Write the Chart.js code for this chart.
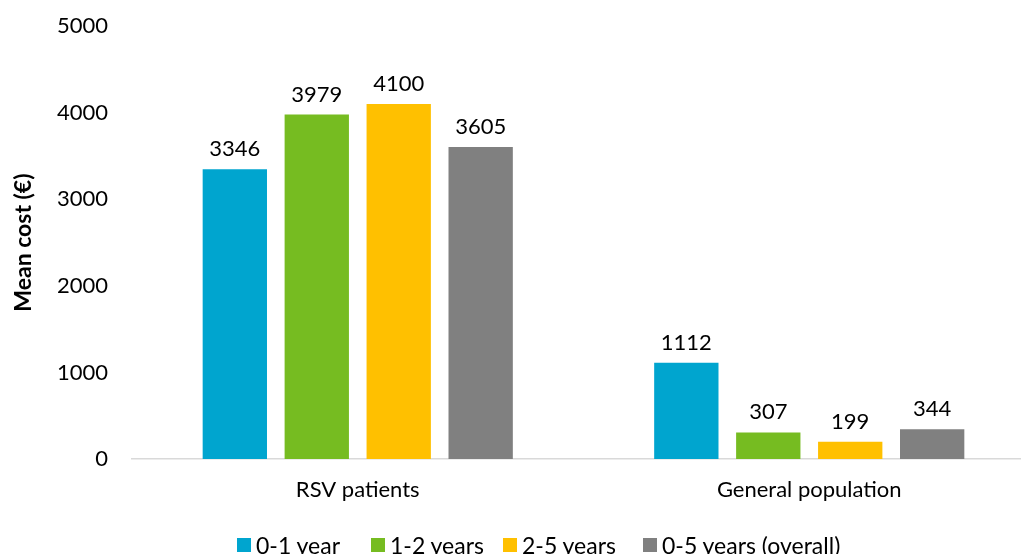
<!DOCTYPE html>
<html lang="en">
<head>
    <meta charset="UTF-8">
    <title>Mean cost</title>
    <script src="https://cdn.jsdelivr.net/npm/chart.js"></script>
    <style>
        body { margin: 0; background: #fff; overflow: hidden; font-family: Lato, sans-serif; }
        .wrap { position: relative; width: 1036px; height: 554px; overflow: hidden; }
        #myChart { position: absolute; left: 0; top: -11px; }
        .legend { position: absolute; left: 237px; top: 531px; display: flex; align-items: center; height: 28px; font-size: 23px; color: #000; white-space: nowrap; }
        .legend-item { display: flex; align-items: center; flex: none; }
        .legend-item:nth-child(1) { width: 134px; }
        .legend-item:nth-child(2) { width: 132px; }
        .legend-item:nth-child(3) { width: 140px; }
        .legend-color { width: 14px; height: 14px; margin-right: 5px; }
    </style>
</head>
<body>
    <div class="wrap">
        <canvas id="myChart" width="1036" height="565"></canvas>
        <div class="legend" id="legend"></div>
    </div>

    <script>
        const categories = ['RSV patients', 'General population'];
        const seriesNames = ['0-1 year', '1-2 years', '2-5 years', '0-5 years (overall)'];
        const age01 = [3346, 1112];
        const age12 = [3979, 307];
        const age25 = [4100, 199];
        const age05 = [3605, 344];
        const colors = ['#00A5CF', '#76BC21', '#FFC000', '#808080'];
        const yTicks = [0, 1000, 2000, 3000, 4000, 5000];

        Chart.defaults.font.family = 'Lato';
        Chart.defaults.color = '#000';

        const values = [age01, age12, age25, age05];
        const datasets = values.map((d, i) => ({
            label: seriesNames[i],
            data: d,
            backgroundColor: colors[i],
            categoryPercentage: 0.726,
            barPercentage: 0.785
        }));

        // value labels above bars
        const valueLabels = {
            id: 'valueLabels',
            afterDatasetsDraw(chart) {
                const ctx = chart.ctx;
                ctx.save();
                ctx.font = '22px Lato';
                ctx.fillStyle = '#000';
                ctx.textAlign = 'center';
                ctx.textBaseline = 'alphabetic';
                chart.data.datasets.forEach((ds, i) => {
                    chart.getDatasetMeta(i).data.forEach((bar, j) => {
                        ctx.fillText(ds.data[j], bar.x, bar.y - 13);
                    });
                });
                ctx.restore();
            }
        };

        new Chart(document.getElementById('myChart'), {
            type: 'bar',
            data: { labels: categories, datasets },
            options: {
                responsive: false,
                animation: false,
                layout: { padding: { top: 4, right: 1, left: 0, bottom: 0 } },
                plugins: {
                    legend: { display: false },
                    tooltip: { enabled: false }
                },
                scales: {
                    y: {
                        min: 0,
                        max: 5000,
                        afterBuildTicks: s => { s.ticks = yTicks.map(v => ({ value: v })); },
                        afterFit: s => { s.width = 132; },
                        ticks: { font: { size: 22 }, padding: 24, color: '#000', callback: v => String(v) },
                        grid: { display: false, drawTicks: false },
                        border: { display: false },
                        title: {
                            display: true,
                            text: 'Mean cost (€)',
                            font: { size: 23, weight: 'bold' },
                            color: '#000',
                            padding: { top: 10, bottom: 0 }
                        }
                    },
                    x: {
                        afterFit: s => { s.height = 95; },
                        ticks: { font: { size: 22 }, padding: 18, color: '#000' },
                        grid: { display: false, drawTicks: false },
                        border: { display: true, color: '#D9D9D9', width: 1.5 }
                    }
                }
            },
            plugins: [valueLabels]
        });

        const legend = document.getElementById('legend');
        seriesNames.forEach((name, i) => {
            const item = document.createElement('div');
            item.className = 'legend-item';
            item.innerHTML = '<div class="legend-color" style="background-color:' + colors[i] + '"></div><span>' + name + '</span>';
            legend.appendChild(item);
        });
    </script>
</body>
</html>
